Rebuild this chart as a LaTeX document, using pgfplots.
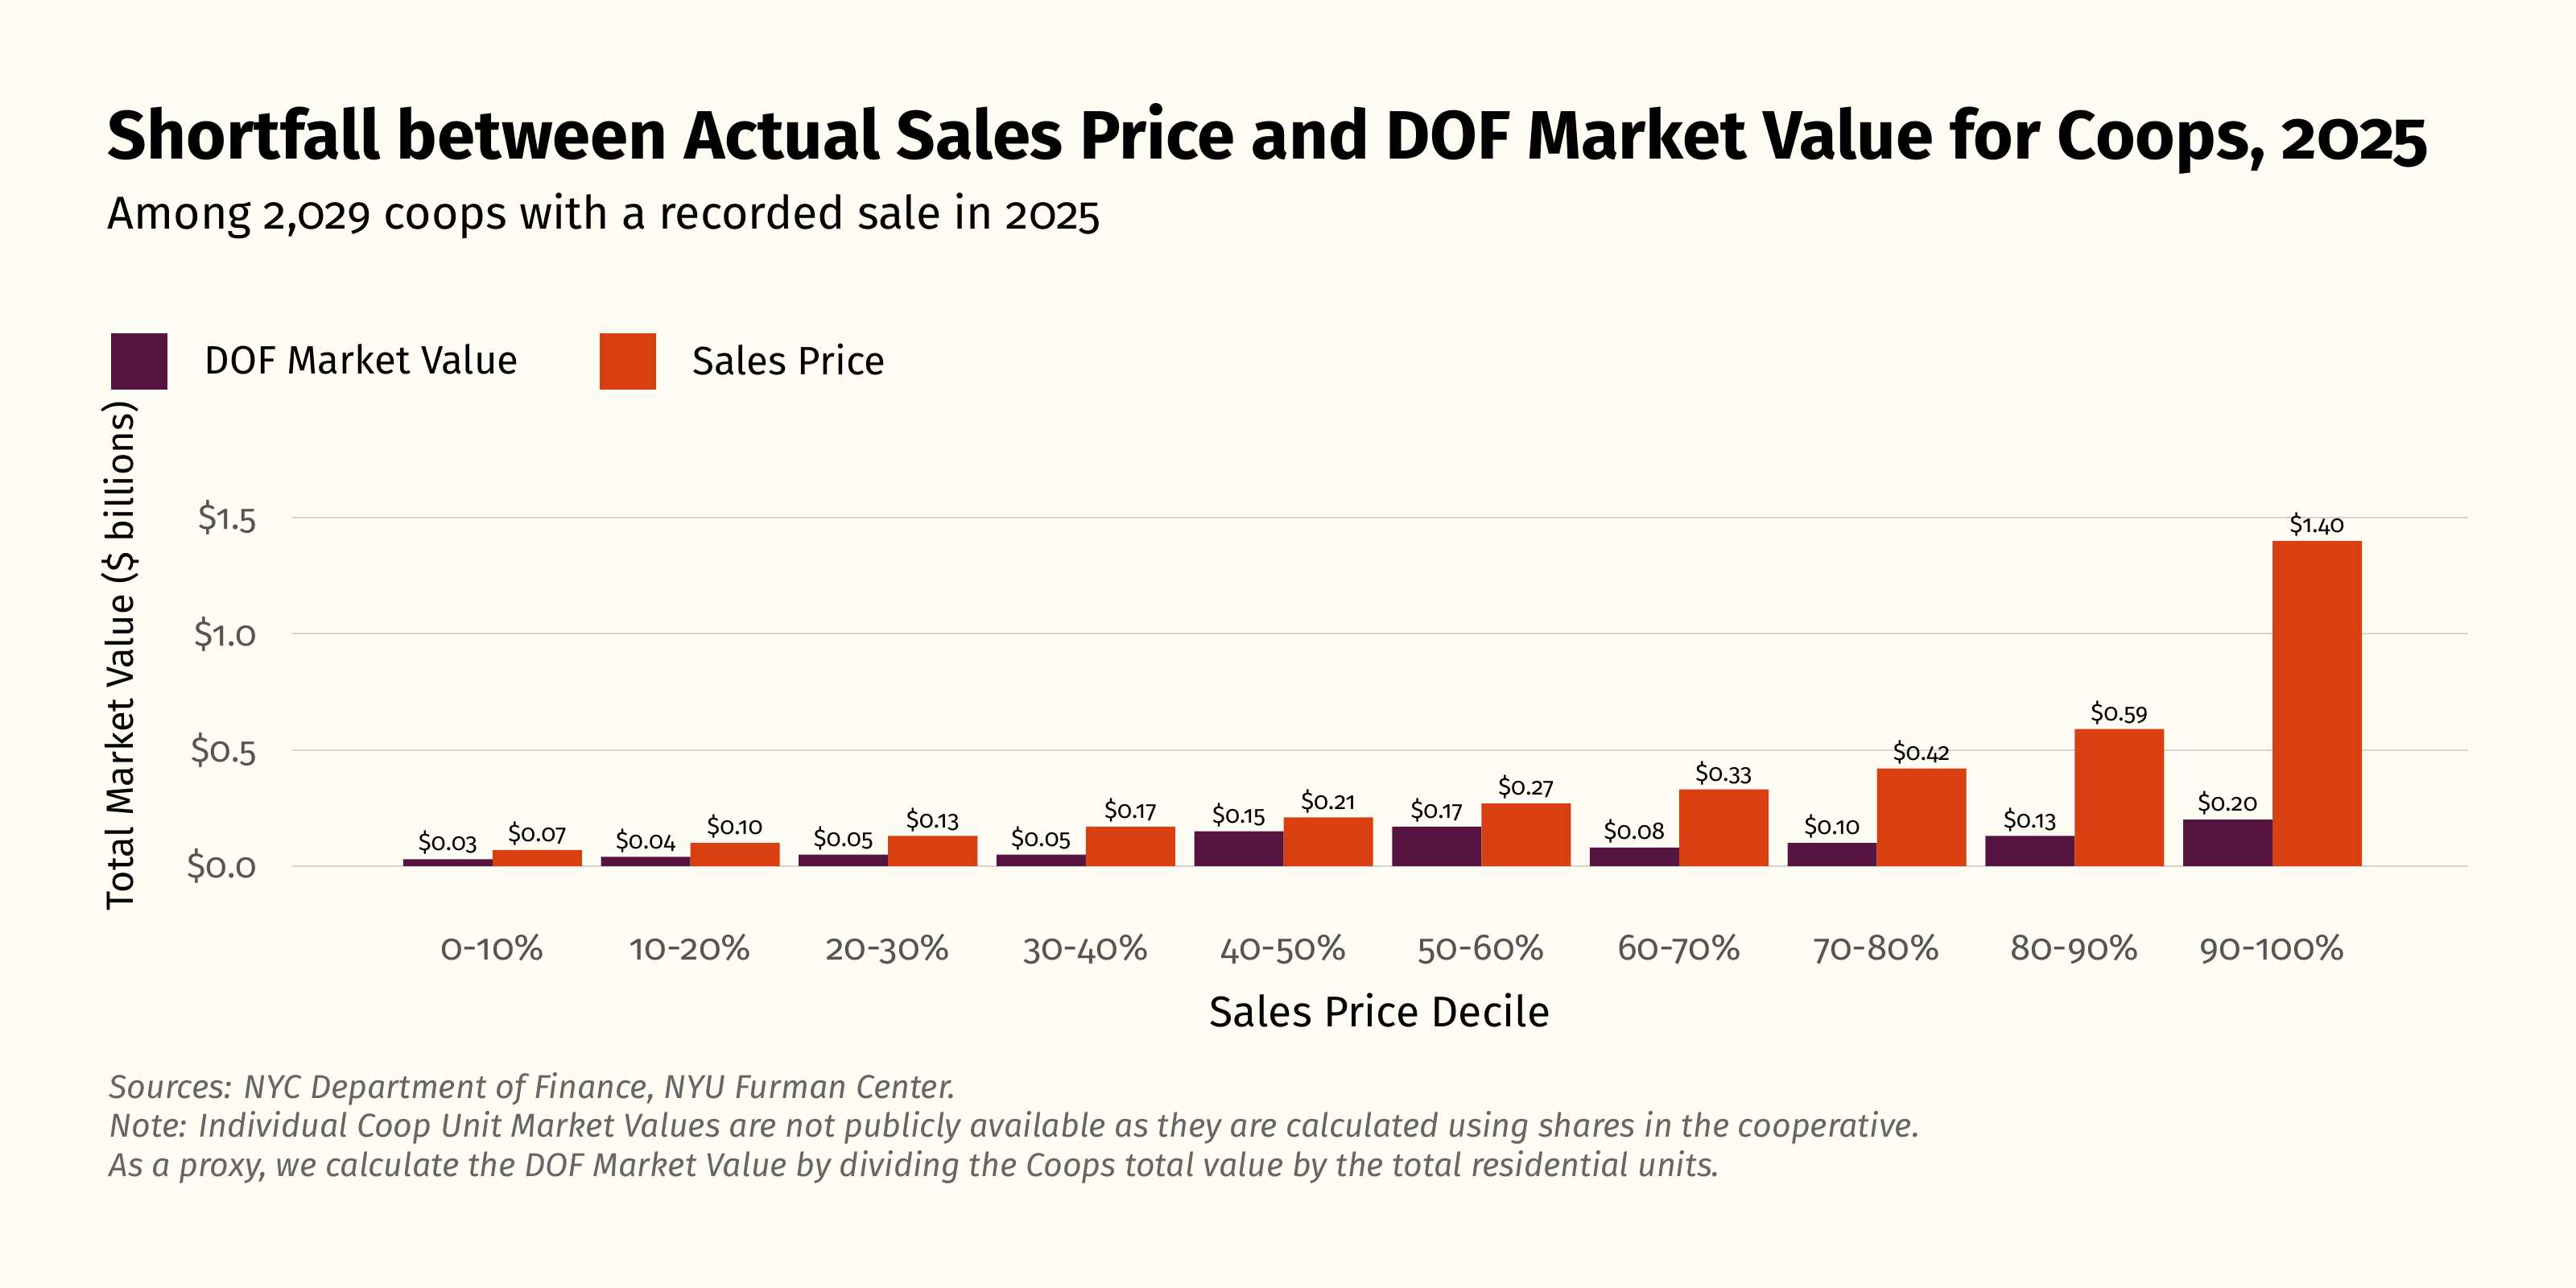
\documentclass[border=0pt]{standalone}
\usepackage{fontspec}
\setmainfont{Fira Sans}[Numbers=OldStyle]
\usepackage{pgfplots}
\pgfplotsset{compat=1.18}
\definecolor{bg}{HTML}{FFFDF3}
\definecolor{dof}{HTML}{561440}
\definecolor{sales}{HTML}{D84012}
\definecolor{gridc}{HTML}{D3D3D3}
\definecolor{tickc}{HTML}{555555}
\definecolor{notec}{HTML}{666666}
\begin{document}
\begin{tikzpicture}
\useasboundingbox (0,0) rectangle (32,16);
\fill[bg] (0,0) rectangle (32,16);
\node[anchor=base west, inner sep=0pt, font=\fontsize{24.2}{28}\selectfont\bfseries] at (1.33,14.02) {Shortfall between Actual Sales Price and DOF Market Value for Coops, 2025};
\node[anchor=base west, inner sep=0pt, font=\fontsize{16.3}{19}\selectfont] at (1.33,13.15) {Among 2,029 coops with a recorded sale in 2025};
\begin{axis}[
  at={(3.63cm,5.24cm)}, anchor=south west,
  width=27.03cm, height=4.33cm, scale only axis,
  xmin=-1.013, xmax=9.989, ymin=0, ymax=1.5,
  clip=false,
  ybar=0pt, bar width=1.11cm,
  axis line style={draw=none},
  tick style={draw=none},
  ymajorgrids, major grid style={draw=gridc, line width=0.5pt},
  xtick={0,...,9},
  xticklabels={0-10\%,10-20\%,20-30\%,30-40\%,40-50\%,50-60\%,60-70\%,70-80\%,80-90\%,90-100\%},
  ytick={0,0.5,1,1.5},
  /pgf/number format/assume math mode=true,
  yticklabel={\$\pgfmathprintnumber[fixed,fixed zerofill,precision=1]{\tick}},
  yticklabel style={anchor=east, inner sep=0pt, xshift=-0.43cm, font=\fontsize{12.5}{15}\selectfont, text=tickc},
  xticklabel style={anchor=base, inner sep=0pt, yshift=-1.02cm, font=\fontsize{13}{15}\selectfont, text=tickc},
  xlabel={Sales Price Decile},
  xlabel style={at={(axis description cs:0.5,0)}, anchor=base, yshift=-2.0cm, inner sep=0pt, font=\fontsize{15.2}{18}\selectfont},
  ylabel={Total Market Value (\$ billions)},
  ylabel style={at={(axis description cs:-0.0792,0.603)}, anchor=center, inner sep=0pt, font=\fontsize{13.4}{16}\selectfont},
  nodes near coords={\$\pgfmathprintnumber[fixed,fixed zerofill,precision=2]{\pgfplotspointmeta}},
  every node near coord/.append style={font=\fontsize{8.5}{10}\selectfont, text=black, inner sep=0pt, anchor=south, yshift=0.05cm},
  legend columns=2,
  legend style={at={(axis description cs:-0.0836,1.531)}, anchor=north west, draw=none, fill=none, inner sep=0pt,
    font=\fontsize{14}{16}\selectfont, nodes={inner sep=0pt}, cells={anchor=west},
    /tikz/every odd column/.append style={column sep=0pt},
    /tikz/every even column/.append style={column sep=1.0cm}},
  legend image code/.code={\path[fill=none,draw=none] (0cm,-0.35cm) rectangle (1.16cm,0.35cm); \fill[#1] (0cm,-0.35cm) rectangle (0.7cm,0.35cm);},
]
\addplot[fill=dof, draw=none] coordinates {(0,0.03) (1,0.04) (2,0.05) (3,0.05) (4,0.15) (5,0.17) (6,0.08) (7,0.10) (8,0.13) (9,0.20)};
\addlegendentry{DOF Market Value}
\addplot[fill=sales, draw=none] coordinates {(0,0.07) (1,0.10) (2,0.13) (3,0.17) (4,0.21) (5,0.27) (6,0.33) (7,0.42) (8,0.59) (9,1.40)};
\addlegendentry{Sales Price}
\end{axis}
\node[anchor=base west, inner sep=0pt, font=\fontsize{11.7}{14}\selectfont\itshape, text=notec] at (1.35,2.35) {Sources: NYC Department of Finance, NYU Furman Center.};
\node[anchor=base west, inner sep=0pt, font=\fontsize{11.7}{14}\selectfont\itshape, text=notec] at (1.35,1.87) {Note: Individual Coop Unit Market Values are not publicly available as they are calculated using shares in the cooperative.};
\node[anchor=base west, inner sep=0pt, font=\fontsize{11.7}{14}\selectfont\itshape, text=notec] at (1.35,1.38) {As a proxy, we calculate the DOF Market Value by dividing the Coops total value by the total residential units.};
\end{tikzpicture}
\end{document}
